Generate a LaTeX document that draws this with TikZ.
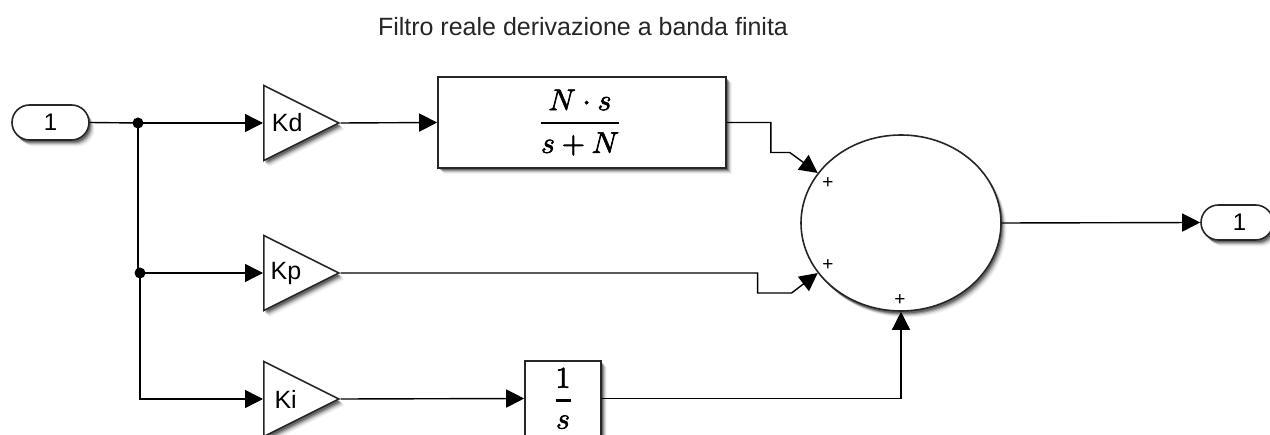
\documentclass[tikz,border=0pt]{standalone}
\usepackage{amsmath}
\usepackage{fontspec}
\setmainfont{Liberation Sans}
\usetikzlibrary{arrows.meta,shapes.geometric,shapes.misc,shadows}
\newcommand{\heavytext}[1]{\special{pdf:code 2 Tr 0.22 w}#1\special{pdf:code 0 Tr}}
\tikzset{
  blk/.style={draw=black!85,line width=1.6pt,fill=white,
    general shadow={shadow xshift=5.5pt,shadow yshift=-6.5pt,fill=black,opacity=.05},
    general shadow={shadow xshift=4.5pt,shadow yshift=-5.5pt,fill=black,opacity=.08},
    general shadow={shadow xshift=3.5pt,shadow yshift=-4.5pt,fill=black,opacity=.14},
    general shadow={shadow xshift=2.5pt,shadow yshift=-3.5pt,fill=black,opacity=.22},
    general shadow={shadow xshift=1.5pt,shadow yshift=-2.5pt,fill=black,opacity=.3}},
  port/.style={blk,rounded rectangle,minimum height=35pt,inner sep=0pt,font=\fontsize{24}{26}\selectfont},
  gain/.style={blk,isosceles triangle,isosceles triangle apex angle=53,isosceles triangle stretches,
    minimum width=75pt,minimum height=75pt,inner sep=0pt,anchor=lower side,font=\fontsize{25}{27}\selectfont},
  tfbox/.style={blk,rectangle,inner sep=0pt},
  dotj/.style={circle,fill=black,minimum size=11pt,inner sep=0pt},
  wire/.style={draw=black,line width=1.4pt},
  arr/.style={wire,-{Triangle[length=18pt,width=18pt]}},
  plusm/.style={inner sep=0pt,font=\fontsize{19}{19}\selectfont},
  titletext/.style={inner sep=0pt,font=\fontsize{25}{28}\selectfont,text=black!85}
}
\begin{document}
\begin{tikzpicture}[x=1pt,y=-1pt]
\clip (0,0) rectangle (1270,435);
\fill[white] (0,0) rectangle (1270,435);
\node[titletext] (title) at (583,27) {Filtro reale derivazione a banda finita};
\node[port,minimum width=77pt] (in) at (50.5,122.5) {1};
\node[dotj] (j1) at (138,123) {};
\node[dotj] (j2) at (140,273) {};
\node[gain] (kd) at (263,123) {Kd};
\node[gain] (kp) at (263,273) {Kp};
\node[gain] (ki) at (263,399) {Ki};
\node[tfbox,minimum width=288pt,minimum height=91pt] (filt) at (582,122.5)
  {\hspace*{-4pt}\scalebox{3}{\heavytext{$\genfrac{}{}{0.9pt}{0}{N\cdot s}{s+N}$}}};
\node[tfbox,minimum width=76pt,minimum height=75pt] (int) at (563,398.5)
  {\scalebox{3}{\heavytext{$\genfrac{}{}{0.7pt}{0}{1}{s}$}}};
\node[blk,ellipse,minimum width=200pt,minimum height=176pt,inner sep=0pt] (sum) at (901,223) {};
\node[plusm] (p1) at (828,183) {+};
\node[plusm] (p2) at (828,265) {+};
\node[plusm] (p3) at (900,300) {+};
\node[port,minimum width=72pt] (out) at (1237,222.5) {\hspace*{5pt}1};
\draw[wire] (in.east) -- (j1.center);
\draw[wire] (j1.center) |- (j2.center);
\draw[arr] (j1.center) -- (kd.lower side);
\draw[arr] (j2.center) -- (kp.lower side);
\draw[arr] (j2.center) |- (ki.lower side);
\draw[arr] (kd.apex) -- (filt.west);
\draw[arr] (ki.apex) -- (int.west);
\draw[arr] (filt.east) -- ++(44,0) -- ++(0,30) -- ++(19,0) -- (sum.149);
\draw[arr] (kp.apex) -- ++(417,0) -- ++(0,20) -- ++(34,0) -- (sum.211);
\draw[arr] (int.east) -| (sum.south);
\draw[arr] (sum.east) -- (out.west);
\end{tikzpicture}
\end{document}
